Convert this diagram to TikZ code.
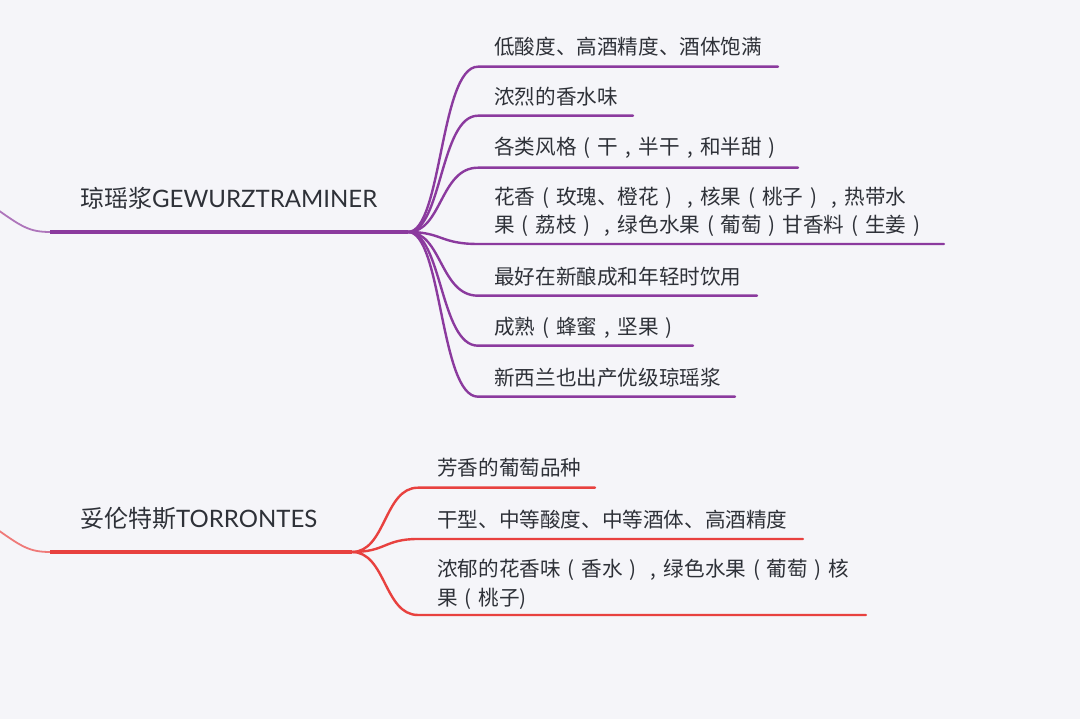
\documentclass[tikz,border=0pt]{standalone}
\usepackage{fontspec}
\setmainfont{Lato}
\newfontfamily\cjk[Kerning=Off]{Noto Sans CJK SC}
\newcommand\zlp{\makebox[1em][c]{(}}
\newcommand\zrp{\makebox[1em][c]{)}}
\newcommand\zcm{\makebox[1em][c]{,}}
\definecolor{bg}{HTML}{F5F5F9}
\definecolor{pur}{HTML}{8B3A9E}
\definecolor{rln}{HTML}{E8413F}
\definecolor{txt}{HTML}{2E3138}
\begin{document}
\begin{tikzpicture}[x=1pt,y=1pt,
  item/.style={anchor=west, inner sep=0pt, text=txt, align=left, font=\cjk\fontsize{20.6}{28.5}\selectfont},
  mainlbl/.style={anchor=west, inner sep=0pt, text=txt, font=\fontsize{24}{28}\selectfont},
  pline/.style={draw=pur, line width=2.4pt, line cap=round},
  rline/.style={draw=rln, line width=2.4pt, line cap=round},
  pmain/.style={draw=pur, line width=3.2pt},
  rmain/.style={draw=rln, line width=3.2pt},
  pfeed/.style={draw=pur!70, line width=1.8pt},
  rfeed/.style={draw=rln!70, line width=1.8pt}]
\fill[bg] (0,0) rectangle (1080,719);
\useasboundingbox (0,0) rectangle (1080,719);

% ---------- Gewurztraminer ----------
\coordinate (L1) at (-2,509);
\coordinate (M1) at (50,487);
\coordinate (J1) at (408,487);
\draw[pfeed] (L1) .. controls (22,492) and (30,487) .. (M1);
\draw[pmain] (M1) -- (J1);
\node[mainlbl] (g0) at (80,521) {{\cjk 琼瑶浆}GEWURZTRAMINER};

\node[item] (g1) at (494,672.3) {低酸度、高酒精度、酒体饱满};
\node[item] (g2) at (494,622.3) {浓烈的香水味};
\node[item] (g3) at (494,571) {各类风格\zlp 干\zcm 半干\zcm 和半甜\zrp};
\node[item] (g4) at (494,507) {花香\zlp 玫瑰、橙花\zrp\zcm 核果\zlp 桃子\zrp\zcm 热带水\\果\zlp 荔枝\zrp\zcm 绿色水果\zlp 葡萄\zrp 甘香料\zlp 生姜\zrp};
\node[item] (g5) at (494,442.3) {最好在新酿成和年轻时饮用};
\node[item] (g6) at (494,391) {成熟\zlp 蜂蜜\zcm 坚果\zrp};
\node[item] (g7) at (494,341) {新西兰也出产优级琼瑶浆};

\foreach \n/\y/\e in {1/652.3/778, 2/603.3/633, 3/551.3/798, 4/475/944, 5/423.3/757, 6/373.3/693, 7/322.3/735}{
  \coordinate (gs\n) at (478,\y);
  \coordinate (ge\n) at (\e,\y);
  \draw[pline] (J1) .. controls (442,487) and (440,\y) .. (gs\n) -- (ge\n);
}

% ---------- Torrontes ----------
\coordinate (L2) at (-2,189);
\coordinate (M2) at (50,167);
\coordinate (J2) at (352,167);
\draw[rfeed] (L2) .. controls (22,172) and (30,167) .. (M2);
\draw[rmain] (M2) -- (J2);
\node[mainlbl] (t0) at (80,201) {{\cjk 妥伦特斯}TORRONTES};

\node[item] (t1) at (437,251) {芳香的葡萄品种};
\node[item] (t2) at (437,199.5) {干型、中等酸度、中等酒体、高酒精度};
\node[item] (t3) at (437,134.5) {浓郁的花香味\zlp 香水\zrp\zcm 绿色水果\zlp 葡萄\zrp 核\\果\zlp 桃子)};

\foreach \n/\y/\e in {1/231.3/595, 2/180/803, 3/104/866}{
  \coordinate (ts\n) at (418,\y);
  \coordinate (te\n) at (\e,\y);
  \draw[rline] (J2) .. controls (386,167) and (384,\y) .. (ts\n) -- (te\n);
}
\end{tikzpicture}
\end{document}
